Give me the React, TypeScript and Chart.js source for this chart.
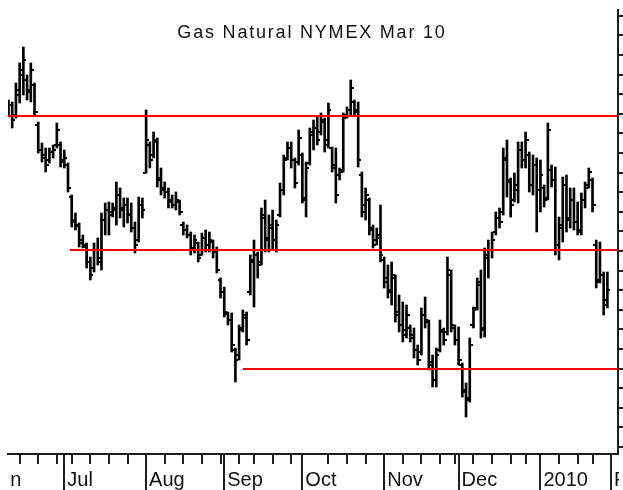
import React, { useEffect, useRef } from 'react';
import { Chart, registerables } from 'chart.js';

Chart.register(...registerables);

const chartTitle = 'Gas Natural NYMEX Mar 10';

// Daily OHLC, one entry per trading day from 10 Jun 2009 to 29 Jan 2010
const highs = [
  6.30, 6.29, 6.385, 6.485, 6.565, 6.425, 6.485, 6.385, 6.19, 6.085,
  6.06, 6.06, 6.075, 6.185, 6.09, 6.05, 5.985, 5.825, 5.735, 5.685,
  5.625, 5.585, 5.515, 5.585, 5.61, 5.735, 5.785, 5.79, 5.785, 5.89,
  5.86, 5.81, 5.81, 5.785, 5.69, 5.815, 5.81, 6.25, 6.09, 6.14,
  6.11, 5.96, 5.89, 5.86, 5.825, 5.84, 5.80, 5.69, 5.675, 5.64,
  5.625, 5.59, 5.635, 5.65, 5.64, 5.60, 5.565, 5.41, 5.365, 5.24,
  5.235, 5.06, 5.175, 5.25, 5.24, 5.525, 5.60, 5.54, 5.76, 5.80,
  5.725, 5.75, 5.70, 5.885, 6.025, 6.09, 6.09, 6.01, 6.15, 6.035,
  5.99, 6.16, 6.20, 6.215, 6.235, 6.21, 6.285, 6.065, 6.06, 5.96,
  6.235, 6.265, 6.40, 6.30, 6.29, 5.94, 5.86, 5.81, 5.675, 5.66,
  5.775, 5.515, 5.475, 5.49, 5.425, 5.325, 5.29, 5.275, 5.175, 5.16,
  5.075, 5.26, 5.315, 5.20, 5.025, 5.06, 5.20, 5.16, 5.515, 5.45,
  5.175, 5.165, 4.985, 4.885, 5.11, 5.265, 5.41, 5.45, 5.56, 5.60,
  5.64, 5.74, 5.76, 6.06, 6.10, 5.91, 5.935, 6.09, 6.09, 6.14,
  6.04, 6.025, 6.01, 6.00, 5.875, 6.185, 5.975, 5.965, 5.715, 5.915,
  5.925, 5.86, 5.86, 5.79, 5.835, 5.89, 5.96, 5.91, 5.60, 5.59,
  5.44, 5.44,
];

const lows = [
  6.215, 6.16, 6.21, 6.285, 6.325, 6.30, 6.29, 6.225, 6.035, 5.99,
  5.94, 5.985, 6.01, 6.06, 5.965, 5.96, 5.84, 5.665, 5.65, 5.565,
  5.56, 5.46, 5.40, 5.44, 5.475, 5.45, 5.625, 5.625, 5.715, 5.675,
  5.71, 5.665, 5.685, 5.64, 5.535, 5.59, 5.71, 5.935, 5.96, 6.01,
  5.865, 5.825, 5.81, 5.76, 5.76, 5.75, 5.725, 5.625, 5.61, 5.525,
  5.535, 5.49, 5.525, 5.54, 5.54, 5.51, 5.435, 5.31, 5.215, 5.175,
  5.04, 4.89, 5.00, 5.14, 5.075, 5.325, 5.265, 5.41, 5.475, 5.54,
  5.54, 5.55, 5.54, 5.715, 5.825, 6.00, 5.96, 5.86, 5.975, 5.785,
  5.715, 5.975, 6.05, 6.075, 6.125, 6.04, 6.06, 5.94, 5.785, 5.90,
  5.94, 6.21, 6.225, 6.225, 5.965, 5.715, 5.70, 5.625, 5.56, 5.575,
  5.49, 5.36, 5.31, 5.275, 5.19, 5.14, 5.09, 5.11, 5.09, 5.01,
  4.975, 5.025, 5.16, 4.95, 4.865, 4.865, 5.04, 5.075, 5.125, 5.14,
  5.075, 4.975, 4.815, 4.715, 4.79, 5.16, 5.25, 5.11, 5.115, 5.41,
  5.51, 5.625, 5.66, 5.725, 5.815, 5.715, 5.79, 5.785, 5.96, 5.96,
  5.84, 5.825, 5.64, 5.74, 5.765, 5.80, 5.865, 5.525, 5.50, 5.59,
  5.64, 5.66, 5.65, 5.625, 5.625, 5.76, 5.86, 5.74, 5.36, 5.385,
  5.225, 5.26,
];

const opens = [
  6.25, 6.275, 6.225, 6.325, 6.425, 6.40, 6.35, 6.375, 6.175, 6.05,
  6.01, 6.00, 6.04, 6.075, 6.075, 6.00, 5.975, 5.815, 5.70, 5.67,
  5.60, 5.565, 5.49, 5.46, 5.55, 5.49, 5.70, 5.75, 5.74, 5.75,
  5.825, 5.76, 5.775, 5.73, 5.66, 5.60, 5.775, 5.935, 6.075, 6.025,
  6.09, 5.91, 5.86, 5.84, 5.80, 5.775, 5.79, 5.675, 5.65, 5.625,
  5.56, 5.585, 5.525, 5.61, 5.575, 5.59, 5.54, 5.40, 5.34, 5.23,
  5.20, 5.05, 5.025, 5.16, 5.21, 5.34, 5.49, 5.525, 5.49, 5.71,
  5.61, 5.66, 5.60, 5.725, 5.85, 6.01, 6.06, 6.00, 5.99, 6.025,
  5.80, 5.985, 6.125, 6.16, 6.14, 6.19, 6.10, 6.06, 5.975, 5.925,
  5.95, 6.225, 6.25, 6.29, 6.25, 5.925, 5.775, 5.80, 5.66, 5.60,
  5.61, 5.50, 5.41, 5.35, 5.41, 5.24, 5.175, 5.15, 5.16, 5.125,
  5.05, 5.04, 5.225, 5.19, 4.99, 4.90, 5.05, 5.14, 5.14, 5.425,
  5.16, 5.10, 4.975, 4.85, 4.81, 5.175, 5.26, 5.39, 5.16, 5.51,
  5.55, 5.64, 5.71, 5.74, 6.01, 5.89, 5.80, 5.85, 6.05, 6.00,
  6.025, 5.875, 5.975, 5.85, 5.86, 5.81, 5.95, 5.90, 5.575, 5.66,
  5.875, 5.71, 5.80, 5.69, 5.64, 5.80, 5.875, 5.90, 5.575, 5.40,
  5.425, 5.30,
];

const closes = [
  6.275, 6.20, 6.35, 6.45, 6.50, 6.34, 6.45, 6.24, 6.05, 6.025,
  5.975, 6.04, 6.05, 6.15, 5.99, 6.01, 5.86, 5.69, 5.675, 5.585,
  5.575, 5.49, 5.425, 5.55, 5.51, 5.70, 5.75, 5.725, 5.76, 5.825,
  5.75, 5.775, 5.725, 5.66, 5.575, 5.775, 5.75, 6.10, 6.00, 6.10,
  5.90, 5.85, 5.84, 5.79, 5.775, 5.80, 5.74, 5.65, 5.625, 5.55,
  5.60, 5.51, 5.61, 5.575, 5.60, 5.54, 5.45, 5.34, 5.24, 5.20,
  5.075, 5.00, 5.15, 5.225, 5.10, 5.50, 5.55, 5.475, 5.725, 5.60,
  5.675, 5.60, 5.675, 5.85, 6.00, 6.06, 6.00, 5.885, 6.11, 5.81,
  5.96, 6.14, 6.16, 6.10, 6.20, 6.075, 6.25, 5.96, 5.825, 5.94,
  6.21, 6.25, 6.36, 6.24, 6.00, 5.74, 5.825, 5.65, 5.575, 5.625,
  5.525, 5.39, 5.34, 5.425, 5.225, 5.175, 5.125, 5.225, 5.11, 5.05,
  5.00, 5.225, 5.20, 4.975, 4.90, 5.025, 5.15, 5.10, 5.45, 5.175,
  5.10, 5.00, 4.84, 4.80, 5.075, 5.25, 5.375, 5.15, 5.525, 5.55,
  5.60, 5.71, 5.69, 6.00, 5.90, 5.775, 5.875, 6.05, 6.00, 6.10,
  5.875, 5.975, 5.85, 5.925, 5.80, 6.15, 5.90, 5.575, 5.675, 5.875,
  5.70, 5.80, 5.69, 5.65, 5.80, 5.86, 5.94, 5.775, 5.39, 5.55,
  5.275, 5.35,
];

// Trading-day index of the first session of each month (Jun is off the left edge)
const monthStarts = [-6, 15, 37, 58, 79, 101, 121, 143, 162];
const monthLabels = ['Jun', 'Jul', 'Aug', 'Sep', 'Oct', 'Nov', 'Dec', '2010', 'Feb'];
// Trading-day index of the first session of each week (minor ticks)
const weekStarts = [3, 8, 13, 17, 22, 27, 32, 42, 47, 52, 57, 62, 66, 71, 76, 86, 91, 96,
  106, 111, 116, 120, 125, 130, 135, 139, 148, 153, 157];

// Horizontal support / resistance lines
const levelPrices = [6.22, 5.55, 4.955];
const levelStarts = [-0.13, 16.5, 63];

const X_MIN = -0.13;
const X_MAX = 163.85;
const Y_MIN = 4.53;
const Y_MAX = 6.75;
const Y_TICK_START = 4.565;
const Y_TICK_STEP = 0.098;

const AXIS_COLOR = '#1e1e1e';

function tickImage(side: 'left' | 'right'): HTMLCanvasElement {
  const c = document.createElement('canvas');
  c.width = 6;
  c.height = 2;
  const g = c.getContext('2d')!;
  g.fillStyle = '#000';
  if (side === 'left') g.fillRect(0, 0, 3, 2);
  else g.fillRect(3, 0, 3, 2);
  return c;
}

const decorPlugin = {
  id: 'decor',
  afterDraw(chart: any) {
    const { ctx, chartArea, scales } = chart;
    const xs = scales.x;
    ctx.save();
    // long month separators
    ctx.strokeStyle = AXIS_COLOR;
    ctx.lineWidth = 2;
    monthStarts.forEach((m) => {
      if (m < X_MIN || m > X_MAX) return;
      const x = Math.round(xs.getPixelForValue(m)) + 0;
      ctx.beginPath();
      ctx.moveTo(x, chartArea.bottom);
      ctx.lineTo(x, chart.height);
      ctx.stroke();
    });
    // month labels (clipped to the plot width)
    ctx.save();
    ctx.beginPath();
    ctx.rect(chartArea.left + 2, chartArea.bottom, chartArea.right + 1 - chartArea.left - 2, chart.height - chartArea.bottom);
    ctx.clip();
    ctx.fillStyle = '#111';
    ctx.font = '20px "Liberation Sans", Arial, sans-serif';
    ctx.textAlign = 'left';
    ctx.textBaseline = 'alphabetic';
    monthStarts.forEach((m, k) => {
      const x = xs.getPixelForValue(m);
      ctx.fillText(monthLabels[k], x + 3, chartArea.bottom + 32);
    });
    ctx.restore();
    // title
    ctx.fillStyle = '#111';
    ctx.font = '18px "Liberation Sans", Arial, sans-serif';
    ctx.textAlign = 'center';
    ctx.textBaseline = 'alphabetic';
    (ctx as any).letterSpacing = '1.8px';
    ctx.fillText(chartTitle, 312, 38);
    ctx.restore();
  },
};

export default function App() {
  const canvasRef = useRef<HTMLCanvasElement | null>(null);

  useEffect(() => {
    if (!canvasRef.current) return;
    const openImg = tickImage('left');
    const closeImg = tickImage('right');

    const datasets: any[] = [
      ...levelPrices.map((p, k) => ({
        type: 'line',
        data: [{ x: levelStarts[k], y: p }, { x: X_MAX, y: p }],
        borderColor: '#ff0000',
        borderWidth: 2,
        pointRadius: 0,
        order: 0,
      })),
      {
        type: 'bar',
        data: highs.map((h, i) => ({ x: i, y: [lows[i], h] })),
        backgroundColor: '#000',
        borderWidth: 0,
        barThickness: 2,
        order: 2,
      },
      {
        type: 'line',
        data: opens.map((o, i) => ({ x: i, y: o })),
        showLine: false,
        pointStyle: openImg,
        pointRadius: 3,
        order: 1,
      },
      {
        type: 'line',
        data: closes.map((c, i) => ({ x: i, y: c })),
        showLine: false,
        pointStyle: closeImg,
        pointRadius: 3,
        order: 1,
      },
    ];

    const chart = new Chart(canvasRef.current, {
      type: 'bar',
      data: { datasets },
      options: {
        responsive: false,
        maintainAspectRatio: false,
        animation: false,
        events: [],
        layout: { padding: { left: 8, top: 10, right: 0, bottom: 26 } },
        plugins: {
          legend: { display: false },
          tooltip: { enabled: false },
          title: { display: false },
        },
        scales: {
          x: {
            type: 'linear',
            position: 'bottom',
            min: X_MIN,
            max: X_MAX,
            offset: false,
            afterBuildTicks: (s: any) => {
              const vals = [...weekStarts, ...monthStarts.filter((m) => m >= X_MIN && m <= X_MAX)];
              vals.sort((a, b) => a - b);
              s.ticks = vals.map((v) => ({ value: v }));
            },
            ticks: { display: false },
            grid: {
              offset: false,
              drawOnChartArea: false,
              drawTicks: true,
              tickLength: 10,
              color: AXIS_COLOR,
              lineWidth: 2,
            },
            border: { display: true, color: AXIS_COLOR, width: 2 },
          },
          y: {
            type: 'linear',
            position: 'right',
            min: Y_MIN,
            max: Y_MAX,
            afterBuildTicks: (s: any) => {
              const t: any[] = [];
              for (let v = Y_TICK_START; v <= Y_MAX + 1e-9; v += Y_TICK_STEP) t.push({ value: +v.toFixed(4) });
              s.ticks = t;
            },
            ticks: { display: false },
            grid: {
              drawOnChartArea: false,
              drawTicks: true,
              tickLength: 5,
              color: AXIS_COLOR,
              lineWidth: 2,
            },
            border: { display: true, color: AXIS_COLOR, width: 2 },
          },
        },
      } as any,
      plugins: [decorPlugin],
    });

    return () => chart.destroy();
  }, []);

  return (
    <div style={{ position: 'absolute', left: 0, top: 0, width: 623, height: 490, background: '#fff' }}>
      <canvas ref={canvasRef} width={623} height={490} style={{ display: 'block' }} />
    </div>
  );
}
